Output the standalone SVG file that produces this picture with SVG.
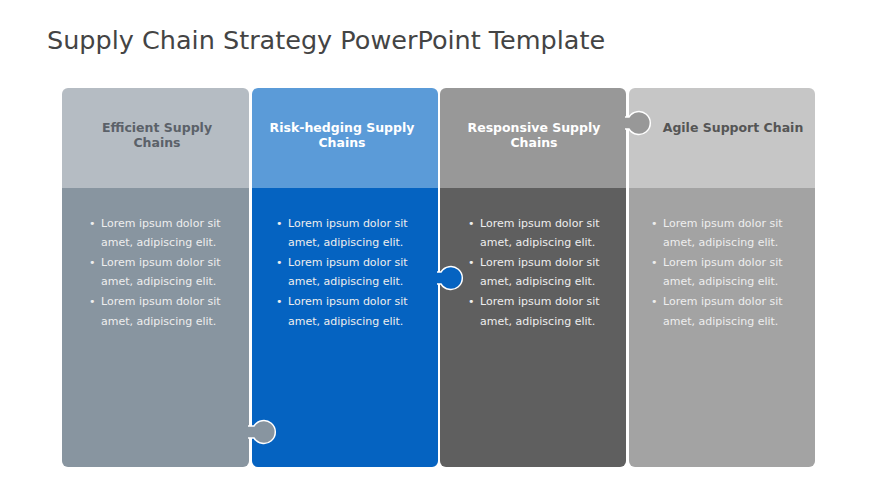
<svg xmlns="http://www.w3.org/2000/svg" width="870" height="489" viewBox="0 0 870 489">
<style>
.title{font-family:"DejaVu Sans","Liberation Sans",sans-serif;font-size:25.5px;fill:#444}
.hd{font-family:"DejaVu Sans","Liberation Sans",sans-serif;font-size:12.5px;font-weight:bold;text-anchor:middle}
.bt{font-family:"DejaVu Sans","Liberation Sans",sans-serif;font-size:11px;fill:#eeeeee}
.tab{stroke:#fff;stroke-width:1.5}
</style>
<rect width="870" height="489" fill="#fff"/>
<text class="title" x="47" y="49">Supply Chain Strategy PowerPoint Template</text>

<g id="col1">
<path d="M62,188 V94 a6,6 0 0 1 6,-6 H243 a6,6 0 0 1 6,6 V188 Z" fill="#b5bcc3"/>
<path d="M62,188 H249 V461 a6,6 0 0 1 -6,6 H68 a6,6 0 0 1 -6,-6 Z" fill="#8895a0"/>
<text class="hd" fill="#5b6169" x="157" y="132">Efficient Supply</text>
<text class="hd" fill="#5b6169" x="157" y="147">Chains</text>
<g class="bt">
<text x="89" y="227">•</text><text x="101" y="227">Lorem ipsum dolor sit</text>
<text x="101" y="246">amet, adipiscing elit.</text>
<text x="89" y="266">•</text><text x="101" y="266">Lorem ipsum dolor sit</text>
<text x="101" y="285">amet, adipiscing elit.</text>
<text x="89" y="305">•</text><text x="101" y="305">Lorem ipsum dolor sit</text>
<text x="101" y="325">amet, adipiscing elit.</text>
</g>
</g>

<g id="col2">
<path d="M252,188 V94 a6,6 0 0 1 6,-6 H432 a6,6 0 0 1 6,6 V188 Z" fill="#5b9bd8"/>
<path d="M252,188 H438 V461 a6,6 0 0 1 -6,6 H258 a6,6 0 0 1 -6,-6 Z" fill="#0563c1"/>
<text class="hd" fill="#ffffff" x="342" y="132">Risk-hedging Supply</text>
<text class="hd" fill="#ffffff" x="342" y="147">Chains</text>
<g class="bt">
<text x="276" y="227">•</text><text x="288" y="227">Lorem ipsum dolor sit</text>
<text x="288" y="246">amet, adipiscing elit.</text>
<text x="276" y="266">•</text><text x="288" y="266">Lorem ipsum dolor sit</text>
<text x="288" y="285">amet, adipiscing elit.</text>
<text x="276" y="305">•</text><text x="288" y="305">Lorem ipsum dolor sit</text>
<text x="288" y="325">amet, adipiscing elit.</text>
</g>
</g>

<g id="col3">
<path d="M440,188 V94 a6,6 0 0 1 6,-6 H620 a6,6 0 0 1 6,6 V188 Z" fill="#989898"/>
<path d="M440,188 H626 V461 a6,6 0 0 1 -6,6 H446 a6,6 0 0 1 -6,-6 Z" fill="#5f5f5f"/>
<text class="hd" fill="#ffffff" x="534" y="132">Responsive Supply</text>
<text class="hd" fill="#ffffff" x="534" y="147">Chains</text>
<g class="bt">
<text x="468" y="227">•</text><text x="480" y="227">Lorem ipsum dolor sit</text>
<text x="480" y="246">amet, adipiscing elit.</text>
<text x="468" y="266">•</text><text x="480" y="266">Lorem ipsum dolor sit</text>
<text x="480" y="285">amet, adipiscing elit.</text>
<text x="468" y="305">•</text><text x="480" y="305">Lorem ipsum dolor sit</text>
<text x="480" y="325">amet, adipiscing elit.</text>
</g>
</g>

<g id="col4">
<path d="M629,188 V94 a6,6 0 0 1 6,-6 H809 a6,6 0 0 1 6,6 V188 Z" fill="#c6c6c6"/>
<path d="M629,188 H815 V461 a6,6 0 0 1 -6,6 H635 a6,6 0 0 1 -6,-6 Z" fill="#a3a3a3"/>
<text class="hd" fill="#555555" x="733" y="132">Agile Support Chain</text>
<g class="bt">
<text x="651" y="227">•</text><text x="663" y="227">Lorem ipsum dolor sit</text>
<text x="663" y="246">amet, adipiscing elit.</text>
<text x="651" y="266">•</text><text x="663" y="266">Lorem ipsum dolor sit</text>
<text x="663" y="285">amet, adipiscing elit.</text>
<text x="651" y="305">•</text><text x="663" y="305">Lorem ipsum dolor sit</text>
<text x="663" y="325">amet, adipiscing elit.</text>
</g>
</g>

<g id="connectors">
<path class="tab" d="M248,426 H254 A11.5,11.5 0 1 1 254,438 H248" fill="#8895a0"/>
<path class="tab" d="M437,272 H441 A11.5,11.5 0 1 1 441,284 H437" fill="#0563c1"/>
<path class="tab" d="M625,117 H629 A11.5,11.5 0 1 1 629,129 H625" fill="#989898"/>
</g>
</svg>
